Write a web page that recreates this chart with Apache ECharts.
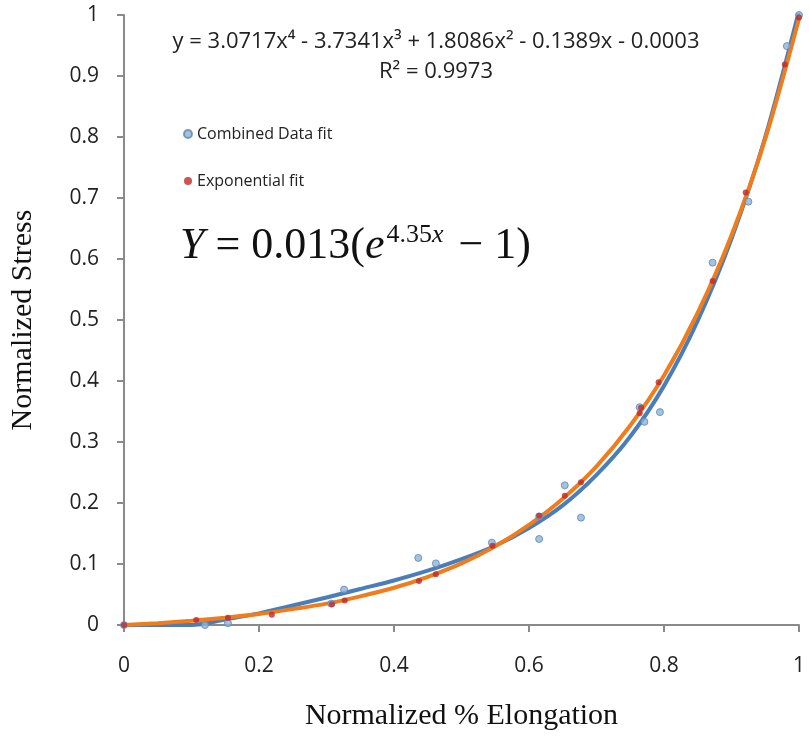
<!DOCTYPE html>
<html>
<head>
<meta charset="utf-8">
<script src="https://cdn.jsdelivr.net/npm/echarts@6/dist/echarts.min.js"></script>
<style>
  html, body { margin: 0; padding: 0; background: #fff; }
  #chart { width: 809px; height: 738px; }
</style>
</head>
<body>
<div id="chart"></div>
<script>
// measured points (normalized elongation, normalized stress)
const combinedX = [0, 0.12, 0.154, 0.307, 0.326, 0.436, 0.462, 0.545, 0.615, 0.615, 0.653, 0.677, 0.764, 0.771, 0.794, 0.872, 0.925, 0.982, 1.0];
const combinedY = [0, 0.0, 0.003, 0.035, 0.058, 0.110, 0.101, 0.135, 0.141, 0.178, 0.229, 0.176, 0.357, 0.333, 0.349, 0.594, 0.694, 0.949, 1.0];

const expX = [0, 0.107, 0.154, 0.219, 0.308, 0.327, 0.437, 0.462, 0.546, 0.615, 0.653, 0.677, 0.764, 0.766, 0.792, 0.872, 0.921, 0.979, 1.0];
const expY = [0, 0.008, 0.012, 0.017, 0.034, 0.040, 0.072, 0.083, 0.130, 0.179, 0.212, 0.234, 0.347, 0.356, 0.398, 0.564, 0.709, 0.919, 0.996];

// trend lines
const trendX = [0, 0.05, 0.1, 0.15, 0.2, 0.25, 0.3, 0.35, 0.4, 0.45, 0.5, 0.55, 0.6, 0.65, 0.7, 0.75, 0.8, 0.85, 0.9, 0.95, 1.0];
const polyTrend = [0, 0, 0.000, 0.009, 0.019, 0.032, 0.045, 0.059, 0.073, 0.089, 0.108, 0.130, 0.159, 0.196, 0.246, 0.309, 0.392, 0.499, 0.633, 0.800, 1.007];
const expTrend = [0, 0.003, 0.007, 0.012, 0.018, 0.026, 0.035, 0.047, 0.061, 0.079, 0.101, 0.129, 0.164, 0.207, 0.260, 0.327, 0.409, 0.512, 0.639, 0.797, 0.994];

const xTicks = ['0', '0.2', '0.4', '0.6', '0.8', '1'];

const pairs = (xs, ys) => xs.map((x, i) => [x, ys[i]]);

const chart = echarts.init(document.getElementById('chart'));

const axisLineStyle = { lineStyle: { color: '#8a8a8a', width: 2 } };
const tickStyle = { length: 7, lineStyle: { color: '#8a8a8a', width: 2 } };

chart.setOption({
    animation: false,
    grid: {
        left: 117,
        right: 10,
        top: 15,
        bottom: 113
    },
    legend: {
        data: ['Combined Data fit', 'Exponential fit'],
        orient: 'vertical',
        left: 178,
        top: 121,
        itemGap: 31,
        icon: 'circle',
        itemWidth: 8,
        itemHeight: 8,
        textStyle: {
            fontFamily: 'Open Sans',
            fontSize: 16,
            color: '#222'
        }
    },
    xAxis: {
        type: 'value',
        min: 0,
        max: 1,
        interval: 0.2,
        name: 'Normalized % Elongation',
        nameLocation: 'middle',
        nameGap: 76,
        nameTextStyle: {
            fontFamily: 'Liberation Serif',
            fontSize: 30,
            color: '#111'
        },
        axisLine: axisLineStyle,
        axisTick: tickStyle,
        splitLine: { show: false },
        axisLabel: {
            fontFamily: 'Open Sans',
            fontSize: 21,
            color: '#222',
            margin: 31,
            formatter: (v) => xTicks[Math.round(v * 5)]
        }
    },
    yAxis: {
        type: 'value',
        min: 0,
        max: 1,
        interval: 0.1,
        name: 'Normalized Stress',
        nameLocation: 'middle',
        nameGap: 86,
        nameTextStyle: {
            fontFamily: 'Liberation Serif',
            fontSize: 30,
            color: '#111'
        },
        axisLine: axisLineStyle,
        axisTick: tickStyle,
        splitLine: { show: false },
        axisLabel: {
            fontFamily: 'Open Sans',
            fontSize: 21,
            color: '#222',
            margin: 25,
            formatter: (v) => String(+v.toFixed(1))
        }
    },
    graphic: [
        {
            type: 'text',
            x: 436,
            y: 42,
            style: {
                text: 'y = 3.0717x⁴ - 3.7341x³ + 1.8086x² - 0.1389x - 0.0003',
                fontFamily: 'Open Sans',
                fontSize: 22,
                fill: '#222',
                align: 'center',
                verticalAlign: 'middle'
            }
        },
        {
            type: 'text',
            x: 436,
            y: 72,
            style: {
                text: 'R² = 0.9973',
                fontFamily: 'Open Sans',
                fontSize: 22,
                fill: '#222',
                align: 'center',
                verticalAlign: 'middle'
            }
        },
        {
            type: 'text',
            left: 180,
            top: 222,
            style: {
                text: '{i|Y} = 0.013({i|e}{sup|4.35}{supi|x} − 1)',
                fontFamily: 'Liberation Serif',
                fontSize: 44,
                fill: '#111',
                rich: {
                    i: { fontFamily: 'Liberation Serif', fontStyle: 'italic', fontSize: 44, fill: '#111' },
                    sup: { fontFamily: 'Liberation Serif', fontSize: 26, fill: '#111', verticalAlign: 'top', padding: [0, 0, 22, 2] },
                    supi: { fontFamily: 'Liberation Serif', fontStyle: 'italic', fontSize: 26, fill: '#111', verticalAlign: 'top', padding: [0, 4, 22, 0] }
                }
            }
        }
    ],
    series: [
        {
            name: 'Combined trend',
            type: 'line',
            data: pairs(trendX, polyTrend),
            smooth: 0.3,
            showSymbol: false,
            lineStyle: { color: '#4a7ebb', width: 4 },
            z: 2
        },
        {
            name: 'Exponential trend',
            type: 'line',
            data: pairs(trendX, expTrend),
            smooth: 0.3,
            showSymbol: false,
            lineStyle: { color: '#f07c1c', width: 4 },
            z: 3
        },
        {
            name: 'Combined Data fit',
            type: 'scatter',
            data: pairs(combinedX, combinedY),
            symbol: 'circle',
            symbolSize: 7,
            itemStyle: { color: '#8fb3d6', borderColor: '#5b87b5', borderWidth: 1 },
            z: 4
        },
        {
            name: 'Exponential fit',
            type: 'scatter',
            data: pairs(expX, expY),
            symbol: 'circle',
            symbolSize: 6,
            itemStyle: { color: '#c0282a' },
            z: 5
        }
    ]
});
</script>
</body>
</html>
